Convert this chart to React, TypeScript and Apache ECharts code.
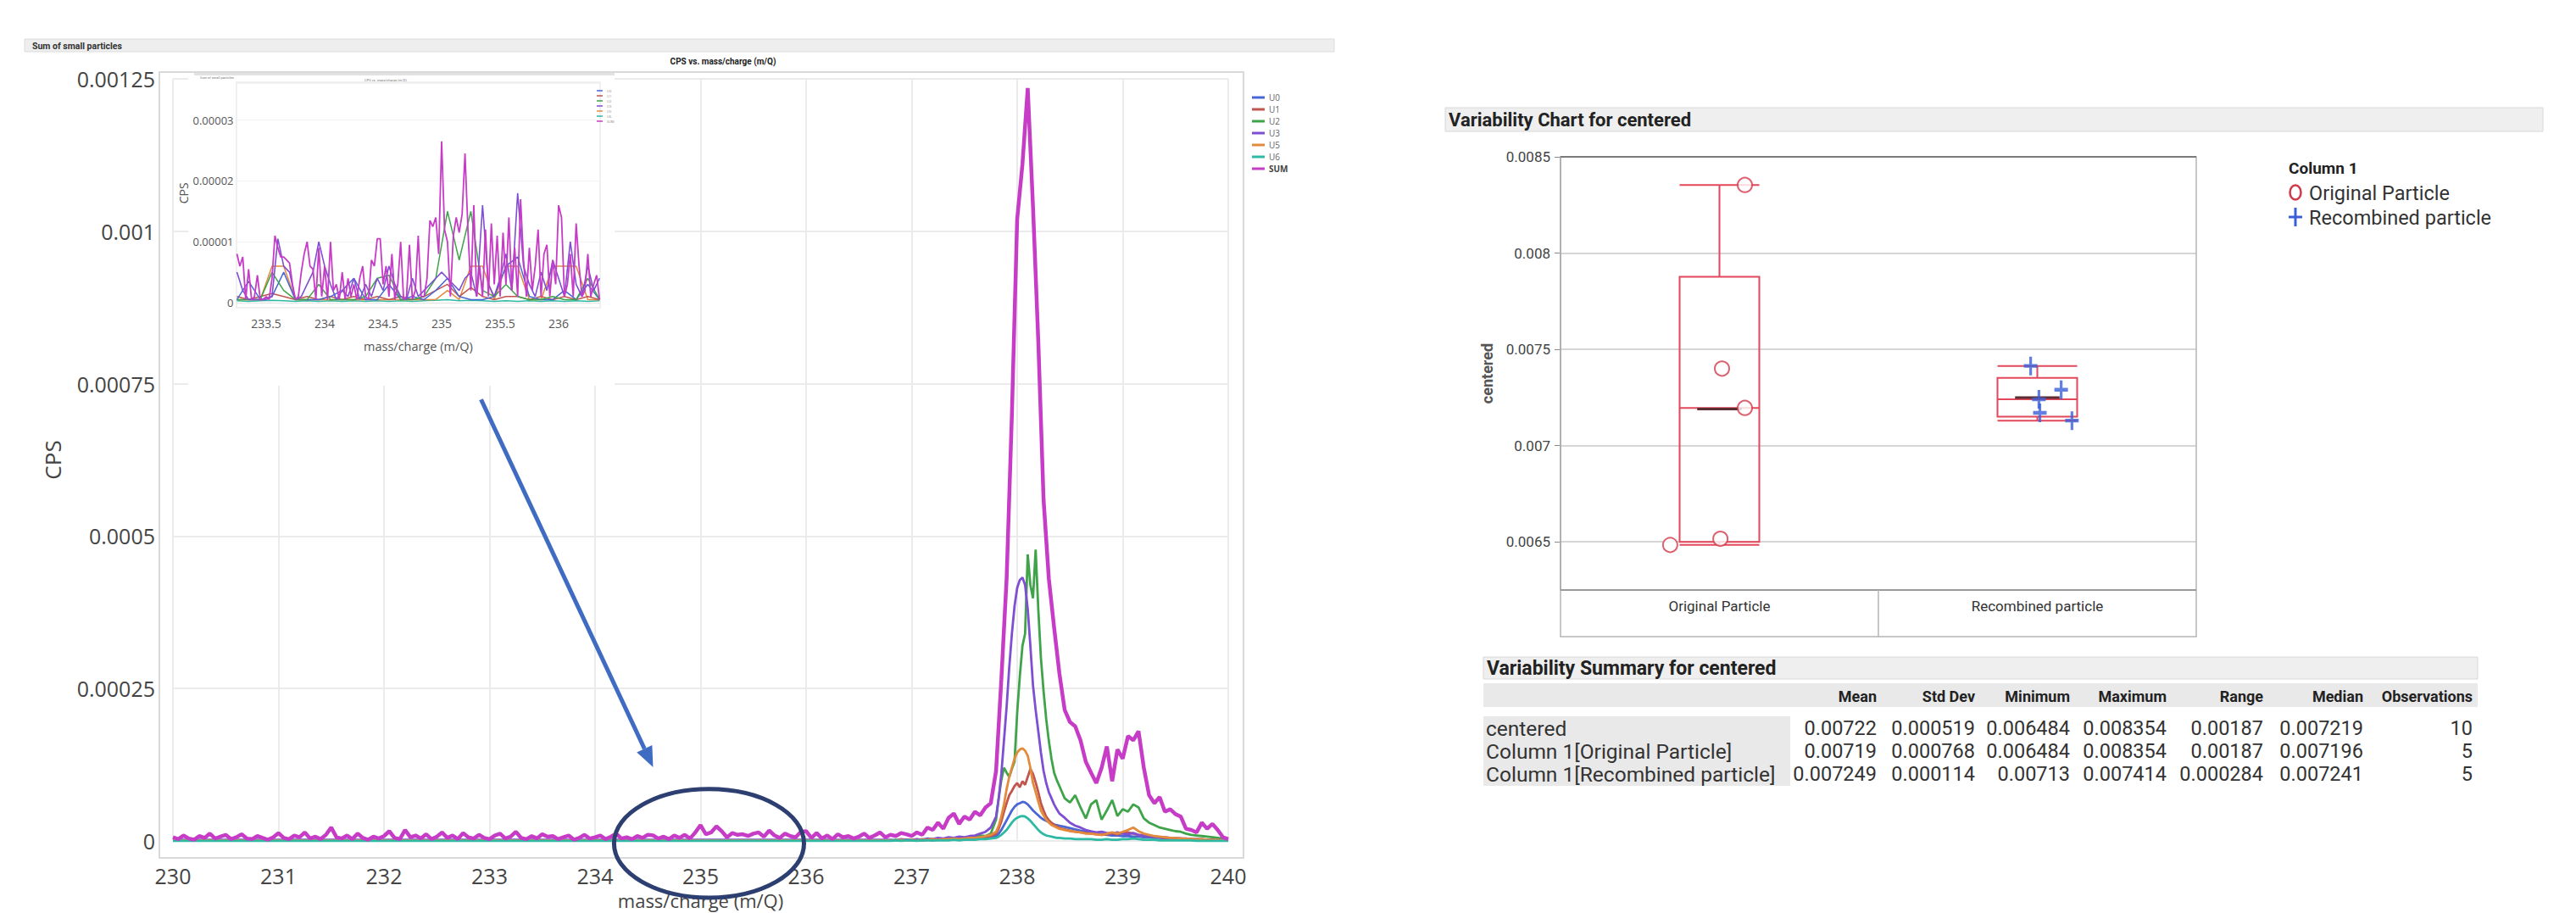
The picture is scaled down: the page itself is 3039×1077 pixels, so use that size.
import React, { useEffect, useRef } from "react";
import * as echarts from "echarts";

const W = 3039;
const H = 1077;
const UNIT = 1e-6; // values below are stored in micro-CPS

const FONT_MAIN = "'Open Sans', 'Noto Sans', sans-serif";
const FONT_JMP = "Roboto, 'Noto Sans', sans-serif";

// ---------------- Left chart: CPS vs. mass/charge ----------------
const seriesNames = ["U0", "U1", "U2", "U3", "U5", "U6", "SUM"];
const seriesColors: Record<string, string> = {
  U0: "#4A66D4",
  U1: "#C0564E",
  U2: "#3FA34A",
  U3: "#7E4FD2",
  U5: "#E38B3C",
  U6: "#2DB9A3",
  SUM: "#C63CC6",
};

const MAIN_MZ_START = 230;
const MAIN_MZ_STEP = 0.05;
// SUM, 230.00 .. 240.00 every 0.05 (micro-CPS)
const sumMain = [
  6, 3, 9, 4, 2, 8, 5, 12, 4, 7,
  10, 3, 6, 11, 4, 3, 8, 5, 2, 6,
  13, 5, 3, 9, 6, 14, 4, 7, 3, 10,
  22, 6, 4, 9, 3, 12, 5, 2, 7, 4,
  8, 16, 5, 3, 18, 6, 9, 4, 11, 3,
  7, 14, 5, 9, 3, 13, 6, 4, 10, 5,
  3, 9, 12, 4, 7, 15, 5, 3, 8, 4,
  11, 7, 8, 3, 6, 9, 2, 5, 10, 4,
  6, 9, 3, 7, 12, 4, 6, 3, 8, 5,
  10, 9, 4, 7, 3, 9, 5, 10, 4, 14,
  26, 11, 14, 24, 16, 6, 13, 10, 11, 8,
  12, 14, 7, 17, 9, 5, 12, 8, 6, 15,
  16, 5, 13, 4, 9, 3, 11, 6, 8, 4,
  7, 12, 5, 9, 14, 6, 10, 8, 13, 11,
  8, 14, 10, 22, 18, 30, 20, 38, 45, 28,
  40, 35, 48, 42, 55, 62, 115, 265, 430, 700,
  1020, 1110, 1235, 1040, 820, 560, 430, 350, 275, 215,
  195, 188, 165, 130, 112, 95, 120, 155, 98, 150,
  135, 172, 165, 180, 120, 75, 62, 72, 48, 52,
  44, 40, 20, 18, 14, 30, 20, 28, 18, 6,
  3,
];

// sampling positions of the individual U traces around the 238 peak
const peakMz = [
  236.8, 236.85, 236.9, 236.95, 237.0, 237.05, 237.1, 237.15, 237.2, 237.25, 237.3,
  237.35, 237.4, 237.45, 237.5, 237.55, 237.6, 237.65, 237.7, 237.75, 237.8,
  237.825, 237.85, 237.875, 237.9, 237.925, 237.95, 237.975, 238.0, 238.025, 238.05,
  238.075, 238.1, 238.125, 238.15, 238.175, 238.2, 238.225, 238.25, 238.275, 238.3,
  238.325, 238.35, 238.375, 238.4,
  238.45, 238.5, 238.55, 238.6, 238.65, 238.7, 238.75, 238.8, 238.85, 238.9, 238.95,
  239.0, 239.05, 239.1, 239.15, 239.2, 239.25, 239.3, 239.35, 239.4, 239.45, 239.5,
  239.55, 239.6, 239.65, 239.7, 239.75, 239.8, 239.85, 239.9, 239.95, 240.0,
];
const u0Peak = [
  1, 1, 1, 1, 2, 1, 1, 2, 1, 2, 2, 2, 2, 3, 3, 3, 4, 4, 5, 6, 8,
  12, 18, 26, 34, 42, 50, 56, 60, 62, 64, 63, 60, 55, 50, 46, 42, 38, 35, 33, 31, 29, 27, 26, 25,
  23, 21, 19, 17, 15, 14, 12, 11, 10, 9, 9, 8, 8, 7, 7, 6, 6, 5, 5, 4, 4, 3, 3, 3, 2, 2, 2, 2, 1, 1, 1, 1,
];
const u1Peak = [
  1, 1, 1, 2, 1, 2, 1, 2, 2, 2, 3, 2, 3, 3, 4, 4, 5, 5, 6, 8, 12,
  20, 32, 48, 62, 75, 82, 90, 95, 88, 98, 92, 105, 118, 110, 96, 80, 62, 50, 40, 34, 30, 26, 24, 21,
  19, 17, 15, 14, 13, 12, 11, 10, 11, 12, 11, 13, 14, 12, 10, 9, 8, 7, 6, 5, 5, 4, 4, 3, 3, 3, 2, 2, 2, 1, 1, 1,
];
const u2Peak = [
  1, 2, 1, 2, 2, 1, 3, 2, 3, 4, 3, 5, 4, 6, 5, 7, 6, 9, 8, 12, 35,
  70, 100, 120, 112, 105, 118, 130, 210, 270, 320, 340, 470, 420, 398, 478, 380, 300, 246, 200, 164, 135, 112, 100, 90,
  70, 63, 75, 55, 37, 60, 67, 35, 50, 67, 41, 52, 48, 60, 55, 37, 30, 26, 22, 20, 18, 16, 15, 12, 10, 9, 8, 7, 6, 5, 4, 3,
];
const u3Peak = [
  2, 1, 3, 2, 2, 3, 2, 4, 3, 5, 4, 6, 5, 7, 6, 8, 9, 12, 15, 22, 40,
  70, 110, 165, 220, 285, 340, 385, 415, 428, 432, 420, 380, 320, 255, 215, 180, 145, 115, 95, 80, 70, 60, 52, 45,
  38, 30, 25, 22, 18, 16, 14, 15, 13, 12, 14, 12, 11, 13, 10, 9, 8, 7, 6, 6, 5, 5, 4, 4, 3, 3, 3, 2, 2, 2, 1, 1,
];
const u5Peak = [
  1, 1, 2, 1, 2, 1, 2, 2, 3, 2, 3, 3, 4, 3, 4, 5, 5, 6, 8, 10, 15,
  25, 40, 60, 85, 105, 120, 135, 145, 150, 152, 148, 140, 120, 95, 80, 65, 50, 42, 35, 30, 26, 24, 22, 20,
  18, 16, 15, 14, 12, 12, 11, 10, 12, 14, 12, 15, 18, 22, 16, 12, 10, 8, 7, 6, 5, 5, 4, 4, 3, 3, 3, 2, 2, 2, 1, 1,
];
const u6Peak = [
  0, 1, 0, 1, 1, 0, 1, 1, 1, 1, 1, 1, 2, 1, 2, 2, 2, 3, 3, 4, 5,
  7, 10, 14, 18, 24, 30, 35, 38, 40, 41, 40, 37, 33, 28, 23, 18, 14, 11, 9, 8, 7, 6, 5, 5,
  4, 4, 3, 3, 3, 3, 2, 2, 3, 2, 2, 3, 3, 4, 3, 2, 2, 2, 1, 1, 1, 1, 1, 1, 1, 0, 0, 0, 0, 0, 0, 0,
];

// ---------------- Inset (zoom of 233.25 .. 236.35) ----------------
const INSET_START = 233.25;
const INSET_END = 236.35;
const INSET_SUM_STEP = 0.025;
const sumInset = [
  8, 6, 7.5, 0.5, 5.5, 0.5, 1, 4.5,
  0.5, 0.5, 1, 0.5, 4, 11, 9, 7.5,
  7.5, 7, 6.5, 3, 0.5, 1, 5, 8,
  10, 6, 5.5, 0.5, 9, 1, 6, 0.5,
  10, 2, 3, 0.5, 5, 0.5, 4, 1,
  3, 0.5, 4, 6, 1, 0.5, 7, 6,
  10.5, 10.5, 3, 6, 1, 8, 0.5, 3,
  10, 0.5, 1, 9.5, 0.5, 2, 11, 1,
  1, 4, 13.5, 12.5, 14, 8, 26.5, 12,
  10, 1, 11, 14, 11.5, 14.5, 24.5, 12,
  2, 16, 1, 6, 1, 12, 1, 13,
  3, 11, 1, 11.5, 3, 14, 2, 9,
  1, 17, 7, 1, 9, 2, 6, 12,
  1, 8, 9.5, 1, 7, 3, 16, 14,
  1, 3, 8, 1, 13, 6, 1, 2,
  8, 1, 3, 4.5, 0.5,
];
const INSET_U3_STEP = 0.05;
const u3Inset = [
  5, 2, 0.5, 0.5, 0.5, 0.5, 1, 10.5,
  6, 5, 0.5, 1, 3, 5, 10, 6,
  3, 0.5, 2, 1, 4, 0.5, 3, 1,
  4, 2, 6, 3, 1, 0.5, 4, 1,
  2, 3, 4, 5, 4, 3, 2, 4,
  5, 1, 16, 3, 1, 4, 8, 2,
  18, 6, 3, 1, 5, 2, 7, 4,
  1, 10, 3, 1, 6, 2, 4,
];
const INSET_OTHER_STEP = 0.1;
const u2Inset = [
  0.5, 0.5, 0.5, 5, 2, 0.5, 0.5, 3,
  0.5, 0.5, 0.5, 1, 4, 4.5, 0.5, 0.5,
  1, 4, 15, 7, 15, 2, 1, 3,
  1, 0.5, 0.5, 1, 0.5, 0.5, 4, 0.5,
];
const u0Inset = [
  0.5, 3.5, 0.5, 1, 5, 0.5, 0.5, 0.5,
  1, 2, 4, 0.5, 0.5, 3, 0.5, 1,
  0.5, 2, 4, 1, 0.5, 0.5, 1, 6,
  7.5, 1, 0.5, 0.5, 2, 0.5, 3, 0.5,
];
const u5Inset = [
  0.5, 0.5, 0.5, 6, 6, 0.5, 0.5, 0.5,
  0.5, 0.5, 0.5, 0.5, 0.5, 0.5, 0.5, 0.5,
  0.5, 0.5, 2, 0.5, 6, 6, 0.5, 6,
  6, 0.5, 0.5, 6, 6, 6, 0.5, 0.5,
];
const u1Inset = [
  1, 0.5, 1, 1.5, 1, 0.5, 1, 0.5,
  1, 0.5, 1, 0.5, 1, 0.5, 1, 0.5,
  1, 2, 3, 1, 2.5, 1, 0.5, 1,
  1, 0.5, 1, 0.5, 1, 0.5, 1, 0.5,
];
const u6Inset = [
  0.3, 0.2, 0.3, 0.4, 0.3, 0.2, 0.3, 0.2,
  0.3, 0.2, 0.3, 0.2, 0.3, 0.2, 0.3, 0.2,
  0.3, 0.4, 0.5, 0.3, 0.4, 0.3, 0.2, 0.3,
  0.2, 0.3, 0.2, 0.3, 0.2, 0.3, 0.2, 0.3,
];

// annotation anchors, in main-chart data coordinates (m/Q, CPS)
const arrowFrom = [232.92, 0.000724];
const arrowTo = [234.55, 0.000121];
const ellipseCenter = [235.08, -0.000004];
const ellipseRadius = [0.9, 0.000089];

// ---------------- Right chart: Variability chart ----------------
const categories = ["Original Particle", "Recombined particle"];
const originalValues = [0.008354, 0.0074, 0.007196, 0.006516, 0.006484];
const originalJitter = [0.08, 0.008, 0.08, 0.003, -0.155];
const recombinedValues = [0.007414, 0.00729, 0.007241, 0.00717, 0.00713];
const recombinedJitter = [-0.021, 0.075, 0.005, 0.008, 0.109];

// ---------------- Summary table ----------------
const summaryRows = ["centered", "Column 1[Original Particle]", "Column 1[Recombined particle]"];
const summaryCols = ["Mean", "Std Dev", "Minimum", "Maximum", "Range", "Median", "Observations"];
const summaryMean = [0.00722, 0.00719, 0.007249];
const summaryStd = [0.000519, 0.000768, 0.000114];
const summaryMin = [0.006484, 0.006484, 0.00713];
const summaryMax = [0.008354, 0.008354, 0.007414];
const summaryRange = [0.00187, 0.00187, 0.000284];
const summaryMedian = [0.007219, 0.007196, 0.007241];
const summaryObs = [10, 5, 5];

// ---------------- helpers ----------------
function quantile(sorted: number[], p: number) {
  const n = sorted.length;
  const pos = (n + 1) * p;
  const lo = Math.floor(pos);
  const hi = Math.ceil(pos);
  const a = sorted[Math.max(0, Math.min(n - 1, lo - 1))];
  const b = sorted[Math.max(0, Math.min(n - 1, hi - 1))];
  return a + (b - a) * (pos - lo);
}
function boxStats(values: number[]) {
  const s = [...values].sort((x, y) => x - y);
  return [s[0], quantile(s, 0.25), quantile(s, 0.5), quantile(s, 0.75), s[s.length - 1]];
}
const mean = (v: number[]) => v.reduce((a, b) => a + b, 0) / v.length;
const fmt = (v: number) => String(parseFloat(v.toFixed(7)));

function lineSeries(name: string, data: any[], axis: number, width: number, z: number) {
  return {
    type: "line",
    name,
    data,
    xAxisIndex: axis,
    yAxisIndex: axis,
    symbol: "none",
    showSymbol: false,
    lineStyle: { width, color: seriesColors[name] },
    itemStyle: { color: seriesColors[name] },
    z,
    silent: true,
  };
}

function buildOption() {
  const peakSets: Record<string, number[]> = {
    U0: u0Peak, U1: u1Peak, U2: u2Peak, U3: u3Peak, U5: u5Peak, U6: u6Peak,
  };
  const mainSeries: any[] = ["U0", "U1", "U2", "U3", "U5", "U6"].map((n) => {
    const arr = peakSets[n];
    const data = [[MAIN_MZ_START, arr[0] * UNIT], ...peakMz.map((m, i) => [m, arr[i] * UNIT])];
    return lineSeries(n, data, 0, 2.8, 2);
  });
  mainSeries.push(
    lineSeries("SUM", sumMain.map((v, i) => [MAIN_MZ_START + i * MAIN_MZ_STEP, v * UNIT]), 0, 4.5, 3)
  );

  const insetOther: Record<string, number[]> = { U0: u0Inset, U1: u1Inset, U2: u2Inset, U5: u5Inset, U6: u6Inset };
  const insetSeries: any[] = ["U6", "U5", "U1", "U0", "U2"].map((n) =>
    lineSeries(n, insetOther[n].map((v, i) => [INSET_START + i * INSET_OTHER_STEP, v * UNIT]), 1, 1.5, 10)
  );
  insetSeries.push(lineSeries("U3", u3Inset.map((v, i) => [INSET_START + i * INSET_U3_STEP, v * UNIT]), 1, 1.6, 11));
  insetSeries.push(lineSeries("SUM", sumInset.map((v, i) => [INSET_START + i * INSET_SUM_STEP, v * UNIT]), 1, 1.8, 12));

  const groups = [originalValues, recombinedValues];
  const jitters = [originalJitter, recombinedJitter];
  const boxData = groups.map(boxStats);

  const meanSeries = groups.map((g, gi) => {
    const c = gi + 0.5;
    const m = mean(g);
    return {
      type: "line",
      xAxisIndex: 3,
      yAxisIndex: 2,
      data: [[c - 0.07, m], [c + 0.07, m]],
      symbol: "none",
      lineStyle: { color: "#5B2E33", width: 3 },
      z: 6,
      silent: true,
    };
  });

  const rightSeries: any[] = [
    {
      type: "boxplot",
      name: "box",
      xAxisIndex: 2,
      yAxisIndex: 2,
      data: boxData,
      boxWidth: [94, 94],
      itemStyle: { color: "rgba(0,0,0,0)", borderColor: "#E2475B", borderWidth: 2 },
      z: 4,
      silent: true,
    },
    ...meanSeries,
    {
      type: "scatter",
      name: categories[0],
      xAxisIndex: 3,
      yAxisIndex: 2,
      data: originalValues.map((v, i) => [0.5 + jitters[0][i], v]),
      symbol: "emptyCircle",
      symbolSize: 17,
      itemStyle: { color: "#D23A4A", borderWidth: 2.5 },
      z: 8,
      silent: true,
    },
    {
      type: "scatter",
      name: categories[1],
      xAxisIndex: 3,
      yAxisIndex: 2,
      data: recombinedValues.map((v, i) => [1.5 + jitters[1][i], v]),
      symbol: "path://M4,0H6V4H10V6H6V10H4V6H0V4H4Z",
      symbolSize: [16, 22],
      itemStyle: { color: "#3A5FD8" },
      z: 8,
      silent: true,
    },
  ];

  // ---------- graphics ----------
  const g: any[] = [];
  // left header
  g.push({ id: "hdrL", type: "rect", shape: { x: 29, y: 46, width: 1545, height: 15 }, style: { fill: "#eeeeee", stroke: "#dcdcdc" }, z: 1 });
  g.push({ id: "hdrLt", type: "text", x: 38, y: 54, style: { text: "Sum of small particles", fontSize: 10.5, fontWeight: "bold", fill: "#333", fontFamily: FONT_JMP, verticalAlign: "middle" }, z: 2 });
  g.push({ id: "ttlL", type: "text", x: 853, y: 72, style: { text: "CPS vs. mass/charge (m/Q)", fontSize: 10, fontWeight: "bold", fill: "#222", fontFamily: FONT_JMP, align: "center", verticalAlign: "middle" }, z: 2 });
  g.push({ id: "frameL", type: "rect", shape: { x: 188, y: 85, width: 1279, height: 927 }, style: { fill: "none", stroke: "#d9d9d9", lineWidth: 2 }, z: 1 });
  // inset background and chrome
  g.push({ id: "insetBg", type: "rect", shape: { x: 222, y: 87, width: 503, height: 368 }, style: { fill: "#ffffff" }, z: 3 });
  g.push({ id: "insetBar", type: "rect", shape: { x: 229, y: 86, width: 496, height: 3 }, style: { fill: "#e2e2e2" }, z: 4 });
  g.push({ id: "insetT1", type: "text", x: 236, y: 91, style: { text: "Sum of small particles", fontSize: 4, fill: "#777", fontFamily: FONT_JMP, verticalAlign: "middle" }, z: 4 });
  g.push({ id: "insetT2", type: "text", x: 455, y: 94, style: { text: "CPS vs. mass/charge (m/Q)", fontSize: 4, fill: "#777", fontFamily: FONT_JMP, align: "center", verticalAlign: "middle" }, z: 4 });
  g.push({ id: "insetFrame", type: "rect", shape: { x: 279, y: 97, width: 429, height: 266 }, style: { fill: "none", stroke: "#ececec", lineWidth: 1.5 }, z: 4 });

  // right chart header & frame
  g.push({ id: "hdrR", type: "rect", shape: { x: 1705, y: 127, width: 1295, height: 28 }, style: { fill: "#efefef", stroke: "#d8d8d8" } });
  g.push({ id: "hdrRt", type: "text", x: 1709, y: 141, style: { text: "Variability Chart for centered", fontSize: 22, fontWeight: "bold", fill: "#222", fontFamily: FONT_JMP, verticalAlign: "middle" } });
  g.push({ id: "frameR", type: "rect", shape: { x: 1841, y: 185, width: 750, height: 566 }, style: { fill: "none", stroke: "#b5b5b5", lineWidth: 1.5 }, z: 5 });
  g.push({ id: "frameRtop", type: "line", shape: { x1: 1841, y1: 185, x2: 2591, y2: 185 }, style: { stroke: "#7a7a7a", lineWidth: 2 }, z: 5 });
  g.push({ id: "bandTop", type: "line", shape: { x1: 1841, y1: 696, x2: 2591, y2: 696 }, style: { stroke: "#9a9a9a", lineWidth: 2 }, z: 5 });
  g.push({ id: "bandDiv", type: "line", shape: { x1: 2216, y1: 696, x2: 2216, y2: 751 }, style: { stroke: "#b5b5b5", lineWidth: 1.5 }, z: 5 });
  // right legend
  g.push({ id: "lgT", type: "text", x: 2700, y: 198, style: { text: "Column 1", fontSize: 19, fontWeight: "bold", fill: "#222", fontFamily: FONT_JMP, verticalAlign: "middle" } });
  g.push({ id: "lgC", type: "ellipse", shape: { cx: 2708, cy: 227, rx: 6.5, ry: 8.5 }, style: { fill: "none", stroke: "#D23A4A", lineWidth: 2.5 } });
  g.push({ id: "lgCt", type: "text", x: 2724, y: 228, style: { text: categories[0], fontSize: 23.5, fill: "#333", fontFamily: FONT_JMP, verticalAlign: "middle" } });
  g.push({ id: "lgP1", type: "line", shape: { x1: 2708, y1: 245, x2: 2708, y2: 267 }, style: { stroke: "#3A5FD8", lineWidth: 3 } });
  g.push({ id: "lgP2", type: "line", shape: { x1: 2700, y1: 256, x2: 2716, y2: 256 }, style: { stroke: "#3A5FD8", lineWidth: 3 } });
  g.push({ id: "lgPt", type: "text", x: 2724, y: 257, style: { text: categories[1], fontSize: 23.5, fill: "#333", fontFamily: FONT_JMP, verticalAlign: "middle" } });

  // summary table
  const colRight = [2214, 2330, 2442, 2556, 2670, 2788, 2917];
  const rowY = [859, 886, 913];
  g.push({ id: "tHdr", type: "rect", shape: { x: 1750, y: 775, width: 1173, height: 26 }, style: { fill: "#efefef", stroke: "#d8d8d8" } });
  g.push({ id: "tHdrT", type: "text", x: 1754, y: 788, style: { text: "Variability Summary for centered", fontSize: 23, fontWeight: "bold", fill: "#222", fontFamily: FONT_JMP, verticalAlign: "middle" } });
  g.push({ id: "tColBg", type: "rect", shape: { x: 1750, y: 806, width: 1173, height: 28 }, style: { fill: "#e9e9e9" } });
  g.push({ id: "tRowBg", type: "rect", shape: { x: 1750, y: 845, width: 362, height: 82 }, style: { fill: "#e9e9e9" } });
  summaryCols.forEach((c, i) => {
    g.push({ id: "tc" + i, type: "text", x: colRight[i], y: 821, style: { text: c, fontSize: 18, fontWeight: "bold", fill: "#222", fontFamily: FONT_JMP, align: "right", verticalAlign: "middle" } });
  });
  const cols = [summaryMean, summaryStd, summaryMin, summaryMax, summaryRange, summaryMedian, summaryObs];
  summaryRows.forEach((r, ri) => {
    g.push({ id: "tr" + ri, type: "text", x: 1753, y: rowY[ri], style: { text: r, fontSize: 24.5, fill: "#333", fontFamily: FONT_JMP, verticalAlign: "middle" } });
    cols.forEach((col, ci) => {
      g.push({ id: "tv" + ri + "_" + ci, type: "text", x: colRight[ci], y: rowY[ri], style: { text: fmt(col[ri]), fontSize: 23.5, fill: "#333", fontFamily: FONT_JMP, align: "right", verticalAlign: "middle" } });
    });
  });

  const halfFmt = (v: number) => (Math.abs(v * 2 - Math.round(v * 2)) < 1e-6 ? String(parseFloat(v.toFixed(2))) : "");

  return {
    animation: false,
    backgroundColor: "#ffffff",
    textStyle: { fontFamily: FONT_MAIN },
    legend: [
      {
        data: seriesNames.map((n) => (n === "SUM" ? { name: n, textStyle: { fontWeight: "bold", color: "#444" } } : n)),
        orient: "vertical",
        left: 1472,
        top: 105,
        itemWidth: 15,
        itemHeight: 3,
        itemGap: 4,
        icon: "rect",
        selectedMode: false,
        textStyle: { fontSize: 10, color: "#666", fontFamily: FONT_MAIN },
      },
      {
        data: seriesNames,
        orient: "vertical",
        left: 699,
        top: 100,
        itemWidth: 7,
        itemHeight: 1.5,
        itemGap: 2,
        icon: "rect",
        selectedMode: false,
        z: 20,
        textStyle: { fontSize: 4, color: "#888" },
      },
    ],
    grid: [
      { left: 204, right: W - 1449, top: 93, bottom: H - 992, outerBoundsMode: "none", containLabel: false },
      { left: 279.5, right: W - 707.3, top: 98.5, bottom: H - 357, z: 5, outerBoundsMode: "none", containLabel: false },
      { left: 1841, right: W - 2591, top: 185, bottom: H - 696, outerBoundsMode: "none", containLabel: false },
    ],
    xAxis: [
      {
        type: "value", gridIndex: 0, min: 230, max: 240, interval: 1,
        axisLine: { show: false }, axisTick: { show: false },
        axisLabel: { fontSize: 25, color: "#444", margin: 27, lineHeight: 27, fontFamily: FONT_MAIN },
        splitLine: { show: true, lineStyle: { color: "#ebebeb", width: 2 } },
        name: "mass/charge (m/Q)", nameLocation: "middle", nameGap: 57,
        nameTextStyle: { fontSize: 22, lineHeight: 22, color: "#444", fontFamily: FONT_MAIN },
      },
      {
        type: "value", gridIndex: 1, min: INSET_START, max: INSET_END, interval: 0.25, z: 6,
        axisLine: { show: true, lineStyle: { color: "#e3e3e3" } }, axisTick: { show: false },
        axisLabel: { fontSize: 14, color: "#555", margin: 17, formatter: halfFmt, showMaxLabel: false, fontFamily: FONT_MAIN },
        splitLine: { show: false },
        name: "mass/charge (m/Q)", nameLocation: "middle", nameGap: 44,
        nameTextStyle: { fontSize: 14.5, color: "#555", fontFamily: FONT_MAIN },
      },
      {
        type: "category", gridIndex: 2, data: categories,
        axisLine: { show: false }, axisTick: { show: false },
        axisLabel: { fontSize: 17, color: "#333", margin: 10, fontFamily: FONT_JMP },
        splitLine: { show: false },
      },
      { type: "value", gridIndex: 2, min: 0, max: 2, show: false },
    ],
    yAxis: [
      {
        type: "value", gridIndex: 0, min: 0, max: 0.00125, interval: 0.00025,
        axisLine: { show: false }, axisTick: { show: false },
        axisLabel: { fontSize: 25, color: "#444", margin: 21, formatter: fmt, fontFamily: FONT_MAIN },
        splitLine: { show: true, lineStyle: { color: "#ebebeb", width: 2 } },
        name: "CPS", nameLocation: "middle", nameGap: 129,
        nameTextStyle: { fontSize: 26, color: "#444", fontFamily: FONT_MAIN },
      },
      {
        type: "value", gridIndex: 1, min: 0, max: 0.000036, interval: 0.00001, z: 6,
        axisLine: { show: false }, axisTick: { show: false },
        axisLabel: { fontSize: 13, color: "#555", margin: 4, formatter: (v: number) => (v === 0 ? "0" : v.toFixed(5)), showMaxLabel: false, fontFamily: FONT_MAIN },
        splitLine: { show: true, lineStyle: { color: "#f3f3f3" } },
        name: "CPS", nameLocation: "middle", nameGap: 41,
        nameTextStyle: { fontSize: 14, color: "#555", fontFamily: FONT_MAIN },
      },
      {
        type: "value", gridIndex: 2, min: 0.00625, max: 0.0085,
        axisLine: { show: true, lineStyle: { color: "#8a8a8a", width: 1.5 } },
        axisTick: { show: true, length: 7, lineStyle: { color: "#8a8a8a" } },
        axisLabel: { fontSize: 17, color: "#444", margin: 12, showMinLabel: false, formatter: fmt, fontFamily: FONT_JMP },
        splitLine: { show: true, lineStyle: { color: "#d6d6d6", width: 2 } },
        name: "centered", nameLocation: "middle", nameGap: 78,
        nameTextStyle: { fontSize: 18, color: "#555", fontWeight: "bold", fontFamily: FONT_JMP },
      },
    ],
    series: [...mainSeries, ...insetSeries, ...rightSeries],
    graphic: { elements: g },
  };
}

function buildAnnotations(chart: any) {
  const p = (d: number[]) => chart.convertToPixel({ gridIndex: 0 }, d) as number[];
  const a = p(arrowFrom);
  const b = p(arrowTo);
  const dx = b[0] - a[0];
  const dy = b[1] - a[1];
  const len = Math.hypot(dx, dy);
  const ux = dx / len;
  const uy = dy / len;
  const headL = 24;
  const headW = 20;
  const bx = b[0] - ux * headL;
  const by = b[1] - uy * headL;
  const px = -uy;
  const py = ux;
  const c = p(ellipseCenter);
  const cr = p([ellipseCenter[0] + ellipseRadius[0], ellipseCenter[1] + ellipseRadius[1]]);
  return {
    elements: [
      { id: "arrowLine", type: "line", shape: { x1: a[0], y1: a[1], x2: bx, y2: by }, style: { stroke: "#3F6CC2", lineWidth: 5 }, z: 20 },
      {
        id: "arrowHead", type: "polygon",
        shape: { points: [[b[0], b[1]], [bx + px * headW / 2, by + py * headW / 2], [bx - px * headW / 2, by - py * headW / 2]] },
        style: { fill: "#3F6CC2" }, z: 20,
      },
      {
        id: "ellipse", type: "ellipse",
        shape: { cx: c[0], cy: c[1], rx: Math.abs(cr[0] - c[0]), ry: Math.abs(c[1] - cr[1]) },
        style: { fill: "none", stroke: "#2C3F70", lineWidth: 5 }, z: 20,
      },
    ],
  };
}

export default function App() {
  const ref = useRef<HTMLDivElement>(null);
  useEffect(() => {
    if (!ref.current) return;
    const chart = echarts.init(ref.current, undefined, { renderer: "svg", width: W, height: H });
    chart.setOption(buildOption());
    chart.setOption({ graphic: buildAnnotations(chart) });
    return () => chart.dispose();
  }, []);
  return (
    <div
      ref={ref}
      style={{ position: "absolute", left: 0, top: 0, width: W, height: H, background: "#fff" }}
    />
  );
}
